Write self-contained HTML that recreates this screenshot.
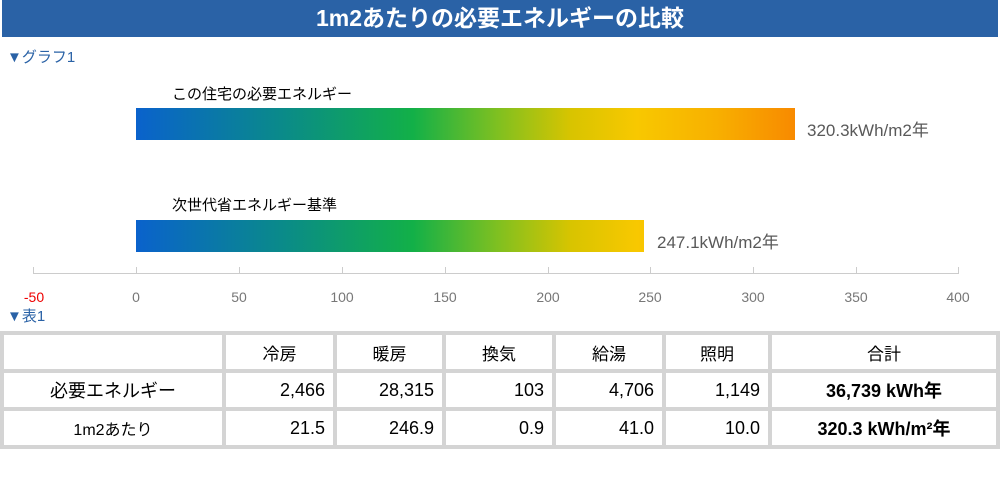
<!DOCTYPE html>
<html><head><meta charset="utf-8"><style>
body{margin:0;width:1000px;height:479px;background:#fff;position:relative;font-family:"Liberation Sans","Noto Sans CJK JP",sans-serif;overflow:hidden}
.a{position:absolute}
.title{left:2px;top:0;width:996px;height:37px;background:#2a62a6;color:#fff;font-size:23px;font-weight:bold;text-align:center;line-height:37px}
.sec{color:#2a62a6;font-size:15px}
.bar{left:136px;height:32px;background:linear-gradient(90deg,#0a62cc 0%,#0a8a8a 22%,#12b048 42%,#80c020 55%,#d8c400 66%,#f8c800 76%,#f8b000 88%,#f88a00 100%);background-size:659px 32px}
.lab{font-size:15px;color:#000}
.val{font-size:17px;color:#595959}
.tk{top:289px;font-size:14px;color:#777;width:40px;margin-left:-20px;text-align:center}
.tl{top:267px;width:1px;height:6px;background:#ccc}
table{position:absolute;left:0;top:331px;width:1000px;border-spacing:4px;background:#d4d4d4;border-collapse:separate;font-size:18px}
td{background:#fff;height:34px;padding:0 8px;text-align:right}
td.c{text-align:center}
tr:first-child td{text-align:center;font-size:17px}
</style></head><body>
<div class="a title">1m2あたりの必要エネルギーの比較</div>
<div class="a sec" style="left:7px;top:46px">▼グラフ1</div>
<div class="a lab" style="left:172px;top:83px">この住宅の必要エネルギー</div>
<div class="a bar" style="top:108px;width:659px"></div>
<div class="a val" style="left:807px;top:116px">320.3kWh/m2年</div>
<div class="a lab" style="left:172px;top:194px">次世代省エネルギー基準</div>
<div class="a bar" style="top:220px;width:508px"></div>
<div class="a val" style="left:657px;top:228px">247.1kWh/m2年</div>
<div class="a" style="left:33px;top:273px;width:926px;height:1px;background:#ccc"></div>
<div class="a tl" style="left:33px"></div><div class="a tl" style="left:136px"></div><div class="a tl" style="left:239px"></div><div class="a tl" style="left:342px"></div><div class="a tl" style="left:445px"></div><div class="a tl" style="left:548px"></div><div class="a tl" style="left:650px"></div><div class="a tl" style="left:753px"></div><div class="a tl" style="left:856px"></div><div class="a tl" style="left:958px"></div>
<div class="a tk" style="left:34px;color:#e00">-50</div><div class="a tk" style="left:136px">0</div><div class="a tk" style="left:239px">50</div><div class="a tk" style="left:342px">100</div><div class="a tk" style="left:445px">150</div><div class="a tk" style="left:548px">200</div><div class="a tk" style="left:650px">250</div><div class="a tk" style="left:753px">300</div><div class="a tk" style="left:856px">350</div><div class="a tk" style="left:958px">400</div>
<div class="a sec" style="left:7px;top:305px">▼表1</div>
<table>
<colgroup><col style="width:218px"><col style="width:107px"><col style="width:105px"><col style="width:106px"><col style="width:106px"><col style="width:102px"><col></colgroup>
<tr><td></td><td>冷房</td><td>暖房</td><td>換気</td><td>給湯</td><td>照明</td><td>合計</td></tr>
<tr><td class="c">必要エネルギー</td><td>2,466</td><td>28,315</td><td>103</td><td>4,706</td><td>1,149</td><td class="c"><b>36,739 kWh年</b></td></tr>
<tr><td class="c" style="font-size:16px">1m2あたり</td><td>21.5</td><td>246.9</td><td>0.9</td><td>41.0</td><td>10.0</td><td class="c"><b>320.3 kWh/m²年</b></td></tr>
</table>
</body></html>
